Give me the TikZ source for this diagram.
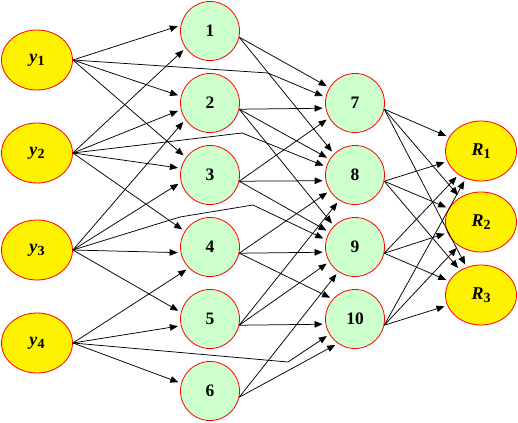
\documentclass[tikz,border=0pt]{standalone}
\usepackage{fontspec}
\setmainfont{Liberation Serif}
\usepackage{xcolor}
\usepackage{tikz}
\usetikzlibrary{shapes,arrows,arrows.meta,positioning}
\usetikzlibrary{shapes.geometric}

\definecolor{node_green}{RGB}{204,255,204}
\newcommand{\lowidx}[1]{\raisebox{-3pt}{\fontsize{14}{14}\selectfont #1}}

\tikzset{
  oval_node/.style={shape=ellipse,draw=red,fill=yellow,line width=0.8pt,minimum width=71pt,minimum height=60pt,inner sep=0pt,font=\bfseries\fontsize{18}{18}\selectfont},
  round_node/.style={shape=circle,draw=red,fill=node_green,line width=0.8pt,minimum size=59pt,inner sep=0pt,font=\bfseries\fontsize{17.5}{17.5}\selectfont},
  link/.style={->,>={Triangle[length=8pt,width=6.5pt]},line width=0.75pt,shorten >=3pt}
}

\begin{document}
\begin{tikzpicture}[x=1pt,y=-1pt]
\useasboundingbox (0,0) rectangle (518,422);

% Inputs
\node [oval_node] at (37,60)  (in_y1) {\textit{y}\lowidx{1}};
\node [oval_node] at (37,153) (in_y2) {\textit{y}\lowidx{2}};
\node [oval_node] at (37,250) (in_y3) {\textit{y}\lowidx{3}};
\node [oval_node] at (37,343) (in_y4) {\textit{y}\lowidx{4}};

% First hidden layer
\node [round_node] at (210,31)  (hid_1) {1};
\node [round_node] at (210,103) (hid_2) {2};
\node [round_node] at (210,175) (hid_3) {3};
\node [round_node] at (210,247) (hid_4) {4};
\node [round_node] at (210,319) (hid_5) {5};
\node [round_node] at (210,391) (hid_6) {6};

% Second hidden layer
\node [round_node] at (355,103) (hid_7) {7};
\node [round_node] at (355,175) (hid_8) {8};
\node [round_node] at (355,247) (hid_9) {9};
\node [round_node] at (355,319) (hid_10) {10};

% Outputs
\node [oval_node] at (481,151) (out_r1) {\textit{R}\lowidx{1}};
\node [oval_node] at (481,222) (out_r2) {\textit{R}\lowidx{2}};
\node [oval_node] at (481,295) (out_r3) {\textit{R}\lowidx{3}};

% bends of the long links
\coordinate (bend_y1) at (268,73);
\coordinate (bend_y2) at (242,133);
\coordinate (bend_y3a) at (180,217);
\coordinate (bend_y3b) at (253,205);
\coordinate (bend_y4) at (288,362);

% Inputs -> first hidden layer
\draw [link] (in_y1.east) -- (hid_1.169);
\draw [link] (in_y1.east) -- (hid_2.167);
\draw [link] (in_y1.east) -- (hid_3.144);
\draw [link] (in_y1.east) -- (bend_y1) -- (hid_7.169);

\draw [link] (in_y2.east) -- (hid_1.215);
\draw [link] (in_y2.east) -- (hid_2.193);
\draw [link] (in_y2.east) -- (hid_3.167);
\draw [link] (in_y2.east) -- (hid_4.148);
\draw [link] (in_y2.east) -- (bend_y2) -- (hid_8.164);

\draw [link] (in_y3.east) -- (hid_2.214);
\draw [link] (in_y3.east) -- (hid_3.194);
\draw [link] (in_y3.east) -- (hid_4.191);
\draw [link] (in_y3.east) -- (hid_5.167);
\draw [link] (in_y3.east) -- (bend_y3a) -- (bend_y3b) -- (hid_9.166);

\draw [link] (in_y4.east) -- (hid_4.225);
\draw [link] (in_y4.east) -- (hid_5.193);
\draw [link] (in_y4.east) -- (hid_6.165);
\draw [link] (in_y4.east) -- (bend_y4) -- (hid_10.211);

% First -> second hidden layer
\draw [link] (hid_1.-12) -- (hid_7.149);
\draw [link] (hid_1.-12) -- (hid_8.135);
\draw [link] (hid_2.-12) -- (hid_7.190);
\draw [link] (hid_2.-12) -- (hid_8.148);
\draw [link] (hid_2.-12) -- (hid_9.135);
\draw [link] (hid_3.-12) -- (hid_7.210);
\draw [link] (hid_3.-12) -- (hid_8.191);
\draw [link] (hid_3.-12) -- (hid_9.150);
\draw [link] (hid_4.-12) -- (hid_8.212);
\draw [link] (hid_4.-12) -- (hid_9.190);
\draw [link] (hid_4.-12) -- (hid_10.138);
\draw [link] (hid_5.-12) -- (hid_8.238);
\draw [link] (hid_5.-12) -- (hid_9.210);
\draw [link] (hid_5.-12) -- (hid_10.190);
\draw [link] (hid_6.-12) -- (hid_9.236);
\draw [link] (hid_6.-12) -- (hid_10.235);

% Second hidden layer -> outputs
\draw [link] (hid_7.-12) -- (out_r1);
\draw [link] (hid_7.-12) -- (out_r2);
\draw [link] (hid_7.-12) -- (out_r3);
\draw [link] (hid_8.-12) -- (out_r1);
\draw [link] (hid_8.-12) -- (out_r2);
\draw [link] (hid_8.-12) -- (out_r3);
\draw [link] (hid_9.-12) -- (out_r1);
\draw [link] (hid_9.-12) -- (out_r2);
\draw [link] (hid_9.-12) -- (out_r3);
\draw [link] (hid_10.-12) -- (out_r1);
\draw [link] (hid_10.-12) -- (out_r2);
\draw [link] (hid_10.-12) -- (out_r3);

\end{tikzpicture}
\end{document}
